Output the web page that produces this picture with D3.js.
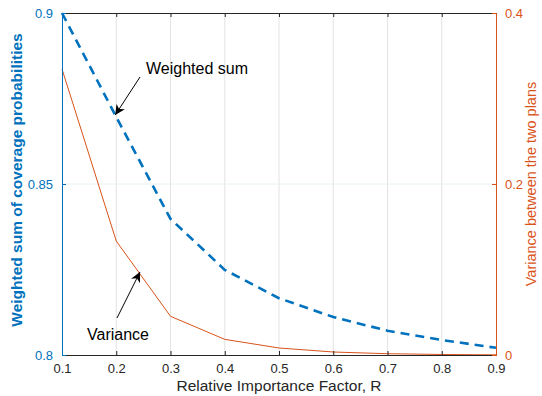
<!DOCTYPE html>
<html>
<head>
<meta charset="utf-8">
<script src="https://cdn.jsdelivr.net/npm/d3@7"></script>
<style>
  body { margin: 0; background: #fff; }
  text { font-family: "Liberation Sans", Arial, sans-serif; }
</style>
</head>
<body>
<svg id="chart" width="542" height="396"></svg>
<script>
const rValues = [0.1, 0.2, 0.3, 0.4, 0.5, 0.6, 0.7, 0.8, 0.9];
const weightedSum = [0.9, 0.8696, 0.8398, 0.8249, 0.8166, 0.8111, 0.8071, 0.8044, 0.8021];
const variance = [0.3345, 0.1333, 0.0453, 0.0183, 0.0082, 0.0035, 0.0015, 0.0006, 0.0002];
const xTicks = [0.1, 0.2, 0.3, 0.4, 0.5, 0.6, 0.7, 0.8, 0.9];
const leftTicks = [0.8, 0.85, 0.9];
const rightTicks = [0, 0.2, 0.4];

const blue = "#0072BD", orange = "#D95319";
const margin = { top: 13, right: 46, bottom: 41, left: 62 };
const width = 542, height = 396;

const svg = d3.select("#chart");

const x = d3.scaleLinear().domain([0.1, 0.9]).range([margin.left, width - margin.right]);
const yL = d3.scaleLinear().domain([0.8, 0.9]).range([height - margin.bottom, margin.top]);
const yR = d3.scaleLinear().domain([0, 0.4]).range([height - margin.bottom, margin.top]);

// Grid lines
svg.append("g")
  .selectAll("line")
  .data(xTicks.slice(1, -1))
  .join("line")
  .attr("x1", d => x(d)).attr("x2", d => x(d))
  .attr("y1", margin.top).attr("y2", height - margin.bottom)
  .attr("stroke", "#e3e3e3").attr("stroke-width", 1);

svg.append("line")
  .attr("x1", margin.left).attr("x2", width - margin.right)
  .attr("y1", yL(0.85)).attr("y2", yL(0.85))
  .attr("stroke", "#e6f0f6").attr("stroke-width", 1);

// Lines
const wsLine = d3.line().x((d, i) => x(rValues[i])).y(d => yL(d));
svg.append("path")
  .datum(weightedSum)
  .attr("fill", "none")
  .attr("stroke", blue)
  .attr("stroke-width", 2.6)
  .attr("stroke-dasharray", "9,6")
  .attr("d", wsLine);

const varLine = d3.line().x((d, i) => x(rValues[i])).y(d => yR(d));
svg.append("path")
  .datum(variance)
  .attr("fill", "none")
  .attr("stroke", orange)
  .attr("stroke-width", 1)
  .attr("d", varLine);

// Axes
const bottomAxis = svg.append("g")
  .attr("transform", `translate(0,${height - margin.bottom})`)
  .call(d3.axisBottom(x).tickValues(xTicks).tickSize(-4).tickPadding(9).tickFormat(d3.format("")));
bottomAxis.selectAll("text").attr("font-size", 13).attr("fill", "#262626");
bottomAxis.selectAll("line").attr("stroke", "#262626");
bottomAxis.select(".domain").attr("stroke", "#262626");

const topAxis = svg.append("g")
  .attr("transform", `translate(0,${margin.top})`)
  .call(d3.axisTop(x).tickValues(xTicks).tickSize(-4).tickFormat(""));
topAxis.selectAll("line").attr("stroke", "#262626");
topAxis.select(".domain").attr("stroke", "#262626");

const leftAxis = svg.append("g")
  .attr("transform", `translate(${margin.left},0)`)
  .call(d3.axisLeft(yL).tickValues(leftTicks).tickSize(-4).tickPadding(9).tickFormat(d3.format("")));
leftAxis.selectAll("text").attr("font-size", 13).attr("fill", blue);
leftAxis.selectAll("line").attr("stroke", blue);
leftAxis.select(".domain").attr("stroke", blue);

const rightAxis = svg.append("g")
  .attr("transform", `translate(${width - margin.right},0)`)
  .call(d3.axisRight(yR).tickValues(rightTicks).tickSize(-4).tickPadding(9).tickFormat(d3.format("")));
rightAxis.selectAll("text").attr("font-size", 13).attr("fill", orange);
rightAxis.selectAll("line").attr("stroke", orange);
rightAxis.select(".domain").attr("stroke", orange);

// Axis labels
svg.append("text")
  .attr("x", (margin.left + width - margin.right) / 2).attr("y", 391)
  .attr("text-anchor", "middle").attr("font-size", 15.5).attr("fill", "#262626")
  .text("Relative Importance Factor, R");

svg.append("text")
  .attr("transform", `translate(22,${(margin.top + height - margin.bottom) / 2 - 4}) rotate(-90)`)
  .attr("text-anchor", "middle").attr("font-size", 15.5).attr("font-weight", "bold").attr("fill", blue)
  .text("Weighted sum of coverage probabilities");

svg.append("text")
  .attr("transform", `translate(536,${(margin.top + height - margin.bottom) / 2}) rotate(-90)`)
  .attr("text-anchor", "middle").attr("font-size", 14.5).attr("fill", orange)
  .text("Variance between the two plans");

// Annotations
svg.append("defs").append("marker")
  .attr("id", "head").attr("viewBox", "0 0 10 10")
  .attr("refX", 10).attr("refY", 5)
  .attr("markerWidth", 10).attr("markerHeight", 10)
  .attr("markerUnits", "userSpaceOnUse")
  .attr("orient", "auto")
  .append("path").attr("d", "M0,0 L10,5 L0,10 L3,5 Z").attr("fill", "#000");

function annotate(label, tx, ty, x1, y1, x2, y2) {
  svg.append("line")
    .attr("x1", x1).attr("y1", y1).attr("x2", x2).attr("y2", y2)
    .attr("stroke", "#000").attr("stroke-width", 1)
    .attr("marker-end", "url(#head)");
  svg.append("text")
    .attr("x", tx).attr("y", ty).attr("font-size", 16).attr("fill", "#000")
    .text(label);
}
// arrow tips sit on the curves
annotate("Weighted sum", 146, 74, 140, 77, x(0.2) - 1, yL(0.8696) - 2);
annotate("Variance", 87, 340, 117, 318, 140, 272);
</script>
</body>
</html>
